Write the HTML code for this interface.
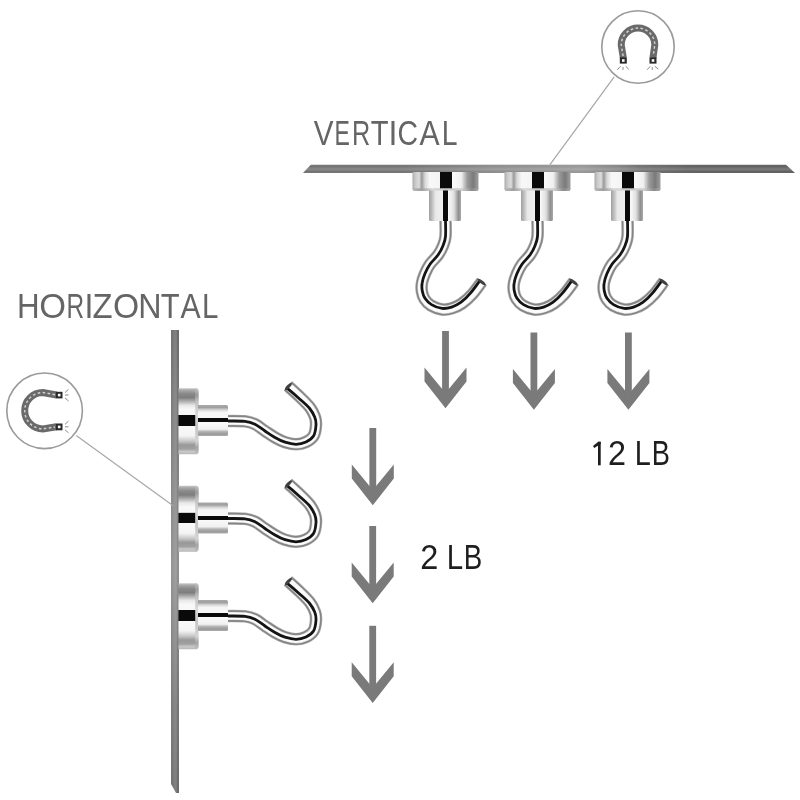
<!DOCTYPE html>
<html><head><meta charset="utf-8">
<style>
html,body{margin:0;padding:0;background:#fff;width:800px;height:800px;overflow:hidden}
svg{display:block;filter:blur(0.35px)}
text{font-family:"Liberation Sans",sans-serif}
</style></head><body>
<svg width="800" height="800" viewBox="0 0 800 800">
<defs>
 <linearGradient id="capV" x1="0" y1="0" x2="1" y2="0">
  <stop offset="0" stop-color="#a8a8a8"/>
  <stop offset="0.04" stop-color="#c8c8c8"/>
  <stop offset="0.10" stop-color="#dcdcdc"/>
  <stop offset="0.14" stop-color="#9a9a9a"/>
  <stop offset="0.19" stop-color="#d8d8d8"/>
  <stop offset="0.26" stop-color="#f8f8f8"/>
  <stop offset="0.42" stop-color="#f4f4f4"/>
  <stop offset="0.421" stop-color="#0a0a0a"/>
  <stop offset="0.595" stop-color="#0a0a0a"/>
  <stop offset="0.596" stop-color="#fafafa"/>
  <stop offset="0.74" stop-color="#f0f0f0"/>
  <stop offset="0.83" stop-color="#9a9a9a"/>
  <stop offset="0.92" stop-color="#7a7a7a"/>
  <stop offset="1" stop-color="#a0a0a0"/>
 </linearGradient>
 <linearGradient id="cylV" x1="0" y1="0" x2="1" y2="0">
  <stop offset="0" stop-color="#a0a0a0"/>
  <stop offset="0.1" stop-color="#c0c0c0"/>
  <stop offset="0.2" stop-color="#e8e8e8"/>
  <stop offset="0.44" stop-color="#f0f0f0"/>
  <stop offset="0.441" stop-color="#0a0a0a"/>
  <stop offset="0.60" stop-color="#0a0a0a"/>
  <stop offset="0.601" stop-color="#fafafa"/>
  <stop offset="0.78" stop-color="#e0e0e0"/>
  <stop offset="0.92" stop-color="#909090"/>
  <stop offset="1" stop-color="#a8a8a8"/>
 </linearGradient>
 <linearGradient id="capH" x1="0" y1="0" x2="0" y2="1">
  <stop offset="0" stop-color="#c8c8c8"/>
  <stop offset="0.03" stop-color="#a8a8a8"/>
  <stop offset="0.08" stop-color="#8a8a8a"/>
  <stop offset="0.14" stop-color="#7e7e7e"/>
  <stop offset="0.19" stop-color="#a8a8a8"/>
  <stop offset="0.26" stop-color="#e8e8e8"/>
  <stop offset="0.32" stop-color="#f8f8f8"/>
  <stop offset="0.405" stop-color="#f8f8f8"/>
  <stop offset="0.406" stop-color="#0a0a0a"/>
  <stop offset="0.57" stop-color="#0a0a0a"/>
  <stop offset="0.571" stop-color="#fafafa"/>
  <stop offset="0.72" stop-color="#f4f4f4"/>
  <stop offset="0.80" stop-color="#c8c8c8"/>
  <stop offset="0.86" stop-color="#999999"/>
  <stop offset="0.92" stop-color="#a0a0a0"/>
  <stop offset="0.96" stop-color="#c8c8c8"/>
  <stop offset="1" stop-color="#b8b8b8"/>
 </linearGradient>
 <linearGradient id="cylH" x1="0" y1="0" x2="0" y2="1">
  <stop offset="0" stop-color="#a8a8a8"/>
  <stop offset="0.08" stop-color="#a0a0a0"/>
  <stop offset="0.16" stop-color="#d8d8d8"/>
  <stop offset="0.24" stop-color="#f6f6f6"/>
  <stop offset="0.42" stop-color="#f8f8f8"/>
  <stop offset="0.421" stop-color="#0a0a0a"/>
  <stop offset="0.56" stop-color="#0a0a0a"/>
  <stop offset="0.561" stop-color="#fafafa"/>
  <stop offset="0.78" stop-color="#f0f0f0"/>
  <stop offset="0.86" stop-color="#b0b0b0"/>
  <stop offset="0.94" stop-color="#9a9a9a"/>
  <stop offset="1" stop-color="#b0b0b0"/>
 </linearGradient>
 <linearGradient id="edgeR" x1="0" y1="0" x2="1" y2="0">
  <stop offset="0" stop-color="#000" stop-opacity="0"/>
  <stop offset="0.8" stop-color="#000" stop-opacity="0"/>
  <stop offset="0.92" stop-color="#000" stop-opacity="0.2"/>
  <stop offset="1" stop-color="#000" stop-opacity="0.1"/>
 </linearGradient>
 <linearGradient id="edgeB" x1="0" y1="0" x2="0" y2="1">
  <stop offset="0" stop-color="#000" stop-opacity="0"/>
  <stop offset="0.75" stop-color="#000" stop-opacity="0"/>
  <stop offset="0.9" stop-color="#000" stop-opacity="0.15"/>
  <stop offset="1" stop-color="#000" stop-opacity="0.06"/>
 </linearGradient>
 <linearGradient id="rimH" x1="0" y1="0" x2="0" y2="1">
  <stop offset="0" stop-color="#c4c4c4"/>
  <stop offset="0.1" stop-color="#9a9a9a"/>
  <stop offset="0.2" stop-color="#c0c0c0"/>
  <stop offset="0.4" stop-color="#dadada"/>
  <stop offset="0.57" stop-color="#c4c4c4"/>
  <stop offset="0.8" stop-color="#d4d4d4"/>
  <stop offset="0.9" stop-color="#a4a4a4"/>
  <stop offset="1" stop-color="#c0c0c0"/>
 </linearGradient>
 <linearGradient id="rimV" x1="0" y1="0" x2="1" y2="0">
  <stop offset="0" stop-color="#b8b8b8"/>
  <stop offset="0.14" stop-color="#a0a0a0"/>
  <stop offset="0.3" stop-color="#d8d8d8"/>
  <stop offset="0.5" stop-color="#c8c8c8"/>
  <stop offset="0.75" stop-color="#d0d0d0"/>
  <stop offset="0.9" stop-color="#8a8a8a"/>
  <stop offset="1" stop-color="#a8a8a8"/>
 </linearGradient>
 <linearGradient id="plateT" x1="0" y1="0" x2="0" y2="1">
  <stop offset="0" stop-color="#6c6c6c"/>
  <stop offset="0.18" stop-color="#606060"/>
  <stop offset="0.4" stop-color="#727272"/>
  <stop offset="0.55" stop-color="#7a7a7a"/>
  <stop offset="0.72" stop-color="#6c6c6c"/>
  <stop offset="0.86" stop-color="#5e5e5e"/>
  <stop offset="1" stop-color="#686868"/>
 </linearGradient>
 <linearGradient id="plateTo" gradientUnits="userSpaceOnUse" x1="303" y1="0" x2="795" y2="0">
  <stop offset="0" stop-color="#fff" stop-opacity="0.11"/>
  <stop offset="0.197" stop-color="#fff" stop-opacity="0.12"/>
  <stop offset="0.319" stop-color="#fff" stop-opacity="0.22"/>
  <stop offset="0.384" stop-color="#fff" stop-opacity="0.28"/>
  <stop offset="0.567" stop-color="#fff" stop-opacity="0.35"/>
  <stop offset="0.634" stop-color="#fff" stop-opacity="0.25"/>
  <stop offset="0.689" stop-color="#fff" stop-opacity="0.1"/>
  <stop offset="0.79" stop-color="#fff" stop-opacity="0"/>
  <stop offset="1" stop-color="#fff" stop-opacity="0"/>
 </linearGradient>
 <linearGradient id="plateL" x1="0" y1="0" x2="1" y2="0">
  <stop offset="0" stop-color="#6e6e6e"/>
  <stop offset="0.5" stop-color="#808080"/>
  <stop offset="0.7" stop-color="#7c7c7c"/>
  <stop offset="0.78" stop-color="#6a6a6a"/>
  <stop offset="1" stop-color="#6c6c6c"/>
 </linearGradient>
 <linearGradient id="plateLo" gradientUnits="userSpaceOnUse" x1="0" y1="330" x2="0" y2="793">
  <stop offset="0" stop-color="#fff" stop-opacity="0"/>
  <stop offset="0.26" stop-color="#fff" stop-opacity="0.14"/>
  <stop offset="0.52" stop-color="#fff" stop-opacity="0.25"/>
  <stop offset="0.69" stop-color="#fff" stop-opacity="0.15"/>
  <stop offset="0.82" stop-color="#fff" stop-opacity="0.07"/>
  <stop offset="1" stop-color="#fff" stop-opacity="0"/>
 </linearGradient>
 <g id="arrow">
  <rect x="-3.4" y="0" width="6.8" height="62"/>
  <polygon points="-21,36.5 0,62 21,36.5 21,50.5 0,77.2 -21,50.5"/>
 </g>
 <path id="hookVp" d="M445.5,220.0 C445.5,222.8 445.9,232.2 445.5,236.5 C445.1,240.8 444.2,242.6 443.0,245.7 C441.8,248.8 440.2,251.9 438.0,255.0 C435.8,258.1 432.2,261.1 430.0,264.2 C427.8,267.3 426.3,270.4 425.0,273.5 C423.7,276.6 422.5,279.8 422.0,282.7 C421.5,285.6 421.4,288.3 421.8,291.0 C422.2,293.7 423.0,296.6 424.5,299.0 C426.0,301.4 428.1,303.8 431.0,305.5 C433.9,307.2 438.5,309.0 442.0,309.5 C445.5,310.0 448.7,309.3 452.0,308.3 C455.3,307.3 458.6,305.9 462.0,303.5 C465.4,301.1 469.2,297.7 472.5,294.0 C475.8,290.3 480.4,283.6 482.0,281.5" fill="none"/>
 <path id="hookVb" d="M445.5,220.0 C445.5,222.8 445.9,232.2 445.5,236.5 C445.1,240.8 444.2,242.6 443.0,245.7 C441.8,248.8 440.2,251.9 438.0,255.0 C435.8,258.1 432.2,261.1 430.0,264.2 C427.8,267.3 426.3,270.4 425.0,273.5 C423.7,276.6 422.6,279.8 422.2,282.7 C421.7,285.6 421.8,288.3 422.3,290.9 C422.8,293.6 423.6,296.3 425.2,298.6 C426.7,300.9 428.7,303.0 431.5,304.6 C434.3,306.3 438.8,308.0 442.1,308.4 C445.5,308.8 448.5,308.1 451.6,307.1 C454.8,306.0 457.9,304.6 461.1,302.2 C464.3,299.8 467.8,296.3 470.9,292.6 C474.1,288.9 478.6,282.2 480.2,280.1" fill="none"/>
 <g id="hookV">
  <use href="#hookVp" stroke="#b0b0b0" stroke-width="12.6"/>
  <use href="#hookVp" stroke="#858585" stroke-width="11.4"/>
  <use href="#hookVp" stroke="#d8d8d8" stroke-width="8.2"/>
  <use href="#hookVp" stroke="#fcfcfc" stroke-width="7"/>
  <use href="#hookVb" stroke="#141414" stroke-width="2.8"/>
  <ellipse cx="481.6" cy="282" rx="4.8" ry="1.6" fill="#404040" transform="rotate(37 481.6 282)"/>
 </g>
 <g id="magV">
  <path d="M412.5,172 H478.5 V188.5 Q478.5,191 476,191 H415 Q412.5,191 412.5,188.5 Z" fill="url(#capV)"/>
  <path d="M412.5,188.3 H478.5 V188.5 Q478.5,191 476,191 H415 Q412.5,191 412.5,188.5 Z" fill="url(#rimV)"/>
  <path d="M429,190.5 H461 V219.5 Q461,221 459.5,221 H430.5 Q429,221 429,219.5 Z" fill="url(#cylV)"/>
 </g>
 <path id="hookHp" d="M226.0,421.0 C229.2,421.1 240.2,420.8 245.0,421.3 C249.8,421.8 251.7,422.6 255.0,424.2 C258.3,425.8 261.7,428.8 265.0,431.0 C268.3,433.2 271.7,435.6 275.0,437.5 C278.3,439.4 281.5,441.1 285.0,442.2 C288.5,443.3 292.5,444.3 296.0,444.3 C299.5,444.3 303.1,443.4 306.0,442.0 C308.9,440.6 311.8,438.8 313.5,436.0 C315.2,433.2 315.8,428.2 316.0,425.0 C316.2,421.8 316.0,419.9 315.0,417.0 C314.0,414.1 312.5,410.8 310.0,407.5 C307.5,404.2 303.7,400.6 300.0,397.0 C296.3,393.4 290.0,387.8 288.0,386.0" fill="none"/>
 <path id="hookHb" d="M226.0,421.0 C229.2,421.1 240.2,420.8 245.0,421.3 C249.8,421.8 251.7,422.6 255.0,424.2 C258.3,425.8 261.7,428.8 265.0,431.0 C268.3,433.2 271.7,435.6 275.0,437.5 C278.3,439.4 281.5,441.1 285.0,442.2 C288.5,443.3 292.5,444.3 296.0,444.3 C299.5,444.3 303.1,443.4 306.0,442.0 C308.9,440.6 311.8,438.8 313.5,436.0 C315.2,433.2 315.8,428.2 316.0,425.0 C316.2,421.8 315.8,419.9 314.7,417.1 C313.6,414.3 311.9,411.2 309.3,408.0 C306.6,404.9 302.6,401.6 298.8,398.2 C295.0,394.8 288.5,389.4 286.4,387.7" fill="none"/>
 <g id="hookH">
  <use href="#hookHp" stroke="#b0b0b0" stroke-width="12.6"/>
  <use href="#hookHp" stroke="#858585" stroke-width="11.4"/>
  <use href="#hookHp" stroke="#d8d8d8" stroke-width="8.2"/>
  <use href="#hookHp" stroke="#fcfcfc" stroke-width="7"/>
  <use href="#hookHb" stroke="#141414" stroke-width="2.8"/>
  <ellipse cx="288.4" cy="386.4" rx="4.8" ry="1.6" fill="#404040" transform="rotate(-47 288.4 386.4)"/>
 </g>
 <g id="magH">
  <path d="M178.5,388.3 H195.8 Q198.4,388.3 198.4,390.9 V451.6 Q198.4,454.2 195.8,454.2 H178.5 Z" fill="url(#capH)"/>
  <path d="M195.2,388.3 H195.8 Q198.4,388.3 198.4,390.9 V451.6 Q198.4,454.2 195.8,454.2 H195.2 Z" fill="url(#rimH)"/>
  <path d="M198,405 H226.5 Q228,405 228,406.5 V434.6 Q228,436.1 226.5,436.1 H198 Z" fill="url(#cylH)"/>
 </g>
</defs>

<!-- plates -->
<polygon points="310.8,164.8 786,164.8 795,173 303,173" fill="url(#plateT)"/>
<polygon points="310.8,164.8 786,164.8 795,173 303,173" fill="url(#plateTo)"/>
<polygon points="171,330 179,330 179,793 176,793 171,784" fill="url(#plateL)"/>
<polygon points="171,330 179,330 179,793 176,793 171,784" fill="url(#plateLo)"/>

<!-- leader lines -->
<line x1="614.2" y1="76.9" x2="548.9" y2="166.2" stroke="#a8a8a8" stroke-width="1.25"/>
<line x1="76.2" y1="435.6" x2="173.5" y2="506" stroke="#a8a8a8" stroke-width="1.25"/>

<!-- icon circles -->
<circle cx="638" cy="47" r="36.2" fill="#fff" stroke="#9a9a9a" stroke-width="1.6"/>
<circle cx="44.6" cy="410.8" r="37.8" fill="#fff" stroke="#9a9a9a" stroke-width="1.6"/>

<!-- top horseshoe (opening down) -->
<g>
 <path d="M623.3,57.5 L621.2,44.9 A16.8,16.8 0 0 1 654.8,44.9 L653,57.5" fill="none" stroke="#6a6a6a" stroke-width="7"/>
 <path d="M623.1,56 L621.2,44.9 A16.8,16.8 0 0 1 654.8,44.9 L653.2,56" fill="none" stroke="#cfcfcf" stroke-width="1.5" stroke-dasharray="2.6 2.4"/>
 <rect x="619.8" y="57.2" width="7" height="6.4" fill="#2a2a2a"/>
 <rect x="622" y="59.2" width="2.6" height="2.6" fill="#fff"/>
 <rect x="649.5" y="57.2" width="7" height="6.4" fill="#2a2a2a"/>
 <rect x="651.7" y="59.2" width="2.6" height="2.6" fill="#fff"/>
 <g stroke="#8a8a8a" stroke-width="1">
  <line x1="617.3" y1="69.8" x2="620.5" y2="66.3"/><line x1="623" y1="67" x2="623" y2="69.8"/><line x1="625.7" y1="66.3" x2="628.9" y2="69.4"/>
  <line x1="647.1" y1="69.8" x2="650.2" y2="66.3"/><line x1="652.2" y1="67" x2="652.3" y2="69.8"/><line x1="654.8" y1="66.3" x2="658.3" y2="69.1"/>
 </g>
</g>
<!-- left horseshoe (opening right) -->
<g>
 <path d="M56.5,395 L42.9,392.5 A18.2,18.2 0 0 0 42.9,428.9 L56.5,426.8" fill="none" stroke="#6a6a6a" stroke-width="7"/>
 <path d="M55,394.7 L42.9,392.5 A18.2,18.2 0 0 0 42.9,428.9 L55,427" fill="none" stroke="#cfcfcf" stroke-width="1.5" stroke-dasharray="2.6 2.4"/>
 <rect x="55.9" y="391.8" width="6.6" height="6.6" fill="#2a2a2a"/>
 <rect x="57.9" y="393.8" width="2.6" height="2.6" fill="#fff"/>
 <rect x="55.9" y="423.5" width="6.6" height="6.8" fill="#2a2a2a"/>
 <rect x="57.9" y="425.6" width="2.6" height="2.6" fill="#fff"/>
 <g stroke="#8a8a8a" stroke-width="1">
  <line x1="65" y1="392.5" x2="68.5" y2="389.3"/><line x1="65" y1="395" x2="68.5" y2="395"/><line x1="65" y1="398" x2="68.5" y2="401"/>
  <line x1="65" y1="424.3" x2="68.5" y2="421.1"/><line x1="65" y1="426.8" x2="68.5" y2="426.8"/><line x1="65" y1="429.8" x2="68.5" y2="432.8"/>
 </g>
</g>

<!-- vertical magnets + hooks -->
<use href="#hookV"/>
<use href="#magV"/>
<use href="#hookV" transform="translate(92,0)"/>
<use href="#magV" transform="translate(92,0)"/>
<use href="#hookV" transform="translate(182,0)"/>
<use href="#magV" transform="translate(182,0)"/>

<!-- horizontal magnets + hooks -->
<use href="#hookH"/>
<use href="#magH"/>
<use href="#hookH" transform="translate(0,97.5)"/>
<use href="#magH" transform="translate(0,97.5)"/>
<use href="#hookH" transform="translate(0,195)"/>
<use href="#magH" transform="translate(0,195)"/>

<!-- arrows -->
<g fill="#7a7a7a">
 <use href="#arrow" transform="translate(445.5,331)"/>
 <use href="#arrow" transform="translate(533.9,332.5)"/>
 <use href="#arrow" transform="translate(628.4,332.5)"/>
 <use href="#arrow" transform="translate(372.8,428)"/>
 <use href="#arrow" transform="translate(372.7,526)"/>
 <use href="#arrow" transform="translate(372.7,625.8)"/>
</g>

<!-- text -->
<g font-size="34.6" fill="#656565">
 <text transform="translate(16.93,317.8) scale(0.9055,1)">H</text>
 <text transform="translate(39.37,317.8) scale(0.9950,1)">O</text>
 <text transform="translate(66.50,317.8) scale(0.7058,1)">R</text>
 <text transform="translate(84.53,317.8) scale(0.9297,1)">I</text>
 <text transform="translate(92.46,317.8) scale(0.9496,1)">Z</text>
 <text transform="translate(112.90,317.8) scale(0.9738,1)">O</text>
 <text transform="translate(138.36,317.8) scale(0.9313,1)">N</text>
 <text transform="translate(160.80,317.8) scale(0.8945,1)">T</text>
 <text transform="translate(180.44,317.8) scale(0.8717,1)">A</text>
 <text transform="translate(202.08,317.8) scale(0.8521,1)">L</text>
</g>
<g font-size="34.9" fill="#656565">
 <text transform="translate(313.87,144.5) scale(0.8489,1)">V</text>
 <text transform="translate(334.61,144.5) scale(0.6608,1)">E</text>
 <text transform="translate(351.93,144.5) scale(0.7239,1)">R</text>
 <text transform="translate(370.84,144.5) scale(0.8361,1)">T</text>
 <text transform="translate(388.53,144.5) scale(0.9217,1)">I</text>
 <text transform="translate(397.56,144.5) scale(0.8144,1)">C</text>
 <text transform="translate(419.44,144.5) scale(0.8642,1)">A</text>
 <text transform="translate(441.67,144.5) scale(0.8123,1)">L</text>
</g>
<g fill="#1e1e1e"><rect x="598" y="441.8" width="2.7" height="23.5"/><polygon points="598.2,441.8 600.7,441.8 600.7,443.9 594.2,447.9 593,445.9"/></g>
<g font-size="34.9" fill="#1e1e1e">
 <text transform="translate(608.12,465.3) scale(0.9277,1)">2</text>
 <text transform="translate(634.63,465.3) scale(0.8286,1)">L</text>
 <text transform="translate(651.77,465.3) scale(0.7806,1)">B</text>
</g>
<g font-size="35.4" fill="#1e1e1e">
 <text transform="translate(420.37,569) scale(0.9177,1)">2</text>
 <text transform="translate(446.83,569) scale(0.8329,1)">L</text>
 <text transform="translate(463.73,569) scale(0.7829,1)">B</text>
</g>
</svg>
</body></html>
